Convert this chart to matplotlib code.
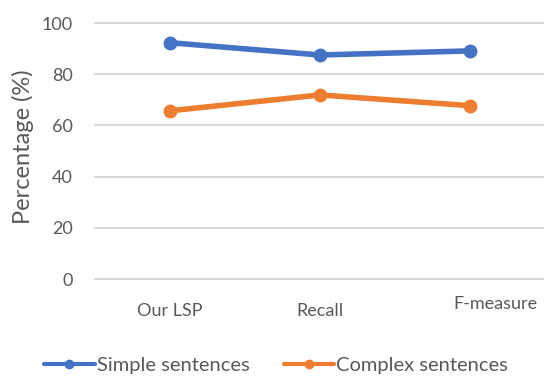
import matplotlib.pyplot as plt
from matplotlib.transforms import ScaledTranslation

plt.rcParams['font.family'] = ['Lato', 'DejaVu Sans']

categories = ['Our LSP', 'Recall', 'F-measure']
simple = [92.3, 87.5, 89.1]
complex_ = [65.7, 71.9, 67.7]

blue = '#4472C4'
orange = '#ED7D31'
grey = '#595959'

fig = plt.figure(figsize=(5.44, 3.76), dpi=100)
ax = fig.add_axes([95 / 544, 1 - 279 / 376, 450 / 544, 256 / 376])

x = range(len(categories))
ax.plot(x, simple, color=blue, lw=4, marker='o', ms=9, label='Simple sentences',
        solid_capstyle='round')
ax.plot(x, complex_, color=orange, lw=4, marker='o', ms=9, label='Complex sentences',
        solid_capstyle='round')

ax.set_xlim(-0.5, 2.5)
ax.set_ylim(0, 100)
ax.set_yticks(range(0, 101, 20))
ax.set_xticks(list(x))
ax.set_xticklabels(categories)
ax.tick_params(length=0, labelsize=13, labelcolor=grey)
ax.tick_params(axis='y', pad=16)
ax.tick_params(axis='x', pad=17)

# last label sits a little right of its category
lab = ax.get_xticklabels()[-1]
lab.set_transform(lab.get_transform() + ScaledTranslation(0.25, 0.07, fig.dpi_scale_trans))

ax.grid(axis='y', color='#D9D9D9', lw=1.5)
ax.set_axisbelow(True)
for gl in ax.get_ygridlines():
    gl.set_clip_on(False)
for s in ax.spines.values():
    s.set_visible(False)

ax.set_ylabel('Percentage (%)', fontsize=17, color=grey)
ax.yaxis.set_label_coords(34 / 544, 1 - 147 / 376, transform=fig.transFigure)

leg = ax.legend(loc='center', bbox_to_anchor=(276 / 544, 1 - 365 / 376),
                bbox_transform=fig.transFigure, ncol=2, frameon=False,
                fontsize=14.5, handlelength=2.5, handletextpad=0.1,
                columnspacing=1.7, borderpad=0)
for t in leg.get_texts():
    t.set_color(grey)
for h in leg.legend_handles:
    h.set_linewidth(3)
    h.set_markersize(6)

fig.savefig('out.png', dpi=100)
